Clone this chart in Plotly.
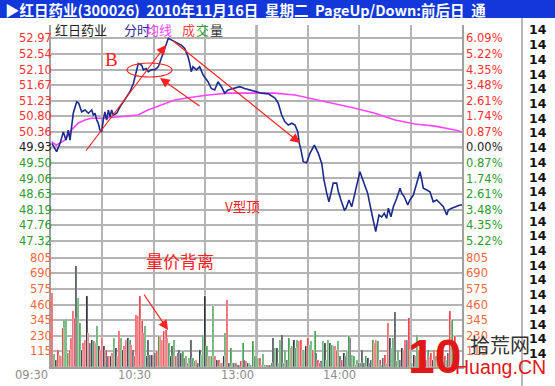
import plotly.graph_objects as go

# ---------------- data ----------------
prev_close = 49.93
price_tick_labels = ["52.97", "52.54", "52.10", "51.67", "51.23", "50.80", "50.36",
                     "49.93", "49.50", "49.06", "48.63", "48.19", "47.76", "47.32"]
pct_tick_labels = ["6.09%", "5.22%", "4.35%", "3.48%", "2.61%", "1.74%", "0.87%",
                   "0.00%", "0.87%", "1.74%", "2.61%", "3.48%", "4.35%", "5.22%"]
vol_tick_labels = ["805", "690", "575", "460", "345", "230", "115"]
time_labels = ["09:30", "10:30", "13:00", "14:00"]
time_label_minutes = [0, 60, 120, 180]

price_minutes = [0.5, 2.0, 3.3, 5.3, 7.2, 8.8, 10.1, 11.1, 13.0, 15.0, 16.2, 17.9, 19.9, 21.8,
                 23.8, 24.7, 25.7, 26.7, 27.6, 28.6, 29.6, 30.5, 31.5, 32.5, 33.5, 34.5, 35.4,
                 36.4, 38.4, 40.3, 42.2, 44.2, 46.1, 48.1, 50.0, 51.0, 53.0, 53.9, 55.5, 56.8,
                 58.8, 60.7, 62.7, 64.6, 66.6, 68.5, 70.5, 72.2, 76.1, 78.1, 80.0, 81.0, 81.9,
                 82.9, 84.9, 86.8, 88.8, 91.7, 93.6, 95.6, 97.5, 99.5, 101.4, 103.4, 107.3,
                 110.2, 113.1, 116.0, 119.0, 123.0, 126.9, 130.8, 132.7, 134.7, 136.6, 138.6,
                 140.6, 142.5, 144.1, 145.0, 146.0, 147.3, 149.3, 151.2, 153.8, 156.1, 158.1,
                 159.4, 161.0, 162.3, 163.9, 164.8, 166.8, 167.8, 169.3, 171.3, 172.3, 174.0,
                 175.6, 177.1, 178.5, 180.4, 181.8, 183.4, 184.9, 187.3, 188.8, 189.6, 190.6,
                 191.5, 193.1, 194.6, 196.0, 197.0, 198.5, 199.9, 201.9, 203.8, 204.8, 206.3,
                 208.3, 209.6, 211.6, 213.5, 215.5, 216.5, 217.4, 219.4, 221.3, 223.2, 225.2,
                 227.2, 229.1, 231.1, 232.0, 234.0, 235.9, 238.8, 240.0]
price_values = [50.04, 49.90, 49.81, 50.04, 50.36, 50.13, 50.41, 50.13, 50.88, 51.20, 51.16,
                50.92, 50.97, 50.88, 50.97, 50.83, 50.88, 50.69, 50.60, 50.41, 50.36, 50.69,
                50.92, 50.69, 50.97, 50.78, 50.97, 50.83, 50.88, 51.06, 51.20, 51.34, 51.48,
                51.71, 52.09, 52.27, 52.22, 52.09, 52.13, 52.04, 52.10, 52.09, 52.18, 52.46,
                52.69, 52.97, 52.92, 52.87, 52.78, 52.69, 52.46, 52.27, 52.04, 52.18, 52.09,
                52.18, 51.95, 51.76, 51.57, 51.53, 51.76, 51.62, 51.44, 51.53, 51.57, 51.62,
                51.57, 51.53, 51.48, 51.44, 51.42, 51.30, 51.16, 50.83, 50.64, 50.55, 50.60,
                50.55, 50.36, 50.04, 49.85, 49.53, 49.50, 49.76, 49.99, 49.76, 49.48, 49.02,
                48.65, 48.41, 48.74, 48.93, 48.93, 48.69, 48.46, 48.18, 48.23, 48.46, 48.27,
                48.55, 48.83, 49.25, 49.06, 48.83, 48.65, 48.09, 47.81, 47.58, 47.81, 48.04,
                47.99, 48.09, 47.95, 48.23, 47.99, 48.27, 48.51, 48.79, 48.65, 48.55, 48.32,
                48.46, 48.60, 48.93, 49.25, 49.02, 48.79, 48.74, 48.69, 48.41, 48.46, 48.37,
                48.27, 48.04, 48.18, 48.23, 48.27, 48.32, 48.32]

avg_minutes = [0.5, 3.0, 8.0, 11.9, 15.8, 19.7, 23.5, 29.4, 37.2, 50.8, 56.6, 64.4, 72.2,
               80.0, 91.7, 103.4, 120.9, 130.8, 142.5, 154.2, 165.8, 177.5, 189.2, 200.9,
               212.6, 224.2, 235.9, 240.0]
avg_values = [50.09, 49.99, 50.13, 50.41, 50.60, 50.69, 50.74, 50.74, 50.77, 50.83, 50.97,
              51.11, 51.25, 51.31, 51.39, 51.44, 51.44, 51.44, 51.39, 51.27, 51.16, 51.02,
              50.88, 50.69, 50.58, 50.52, 50.41, 50.36]

volume_values = [545, 98, 54, 128, 91, 79, 287, 344, 356, 103, 128, 214, 410, 361, 742, 509,
                 324, 128, 177, 201, 521, 251, 177, 201, 189, 177, 300, 152, 128, 214, 152, 128,
                 79, 79, 79, 103, 214, 140, 79, 263, 214, 128, 152, 201, 214, 201, 165, 128, 79,
                 386, 373, 521, 337, 251, 300, 79, 201, 91, 91, 91, 103, 115, 226, 226, 201, 263,
                 275, 214, 177, 79, 152, 201, 79, 103, 128, 103, 115, 66, 79, 29, 66, 201, 66,
                 42, 54, 29, 128, 91, 238, 521, 152, 79, 79, 79, 447, 79, 54, 54, 29, 29, 79,
                 251, 496, 29, 140, 29, 29, 29, 17, 17, 42, 177, 54, 42, 29, 29, 17, 189, 79, 79,
                 66,
                 66, 17, 98, 17, 17, 17, 17, 29, 214, 140, 140, 29, 201, 238, 29, 128, 54, 214,
                 140, 152, 201, 140, 201, 189, 201, 128, 115, 152, 214, 165, 189, 128, 263, 103,
                 54, 29, 42, 189, 177, 54, 201, 177, 165, 152, 152, 128, 189, 79, 54, 103, 79,
                 115, 226, 214, 91, 79, 17, 54, 29, 29, 128, 29, 79, 66, 29, 54, 201, 177, 201,
                 189, 54, 17, 66, 91, 29, 324, 214, 140, 214, 403, 42, 128, 54, 140, 128, 201,
                 201, 361, 128, 29, 91, 79, 238, 128, 79, 152, 103, 54, 128, 79, 103, 54, 128,
                 79, 54, 103, 79, 128, 79, 54, 103, 410, 344, 128, 226, 79, 54]
volume_colors = list("rgkrrrrggg" "rrrrkggkrr" "krkkgrgkrr" "krkrkrgkrr" "gkrrkgrkrr"
                     "rrrrgkkkkr" "krgrrrrrgk" "kgrkkkgkgr" "gkggrkkggk" "grgg" "grkrgrkgrk"
                     "ggkrkkrgkrkg" "ggkggrr" "g"
                     "gkrkgkgkggkggkgrgkggrrggkrggrgkrrkgkggkggrrgkrkkggkggrgkgkkgkkkgrrgrgkrgrk"
                     "ggkgg" "kkrrkrggkrgrr" "rkrgrrkrgrrkgrgkrg" "grkkgk")

# ---------------- geometry helpers (pixels -> paper) ----------------
PL, PR, PT, PB = 51, 462, 25, 367
SPLIT = 250  # pixel row separating price and volume panels


def fx(px):
    return (px - PL) / (PR - PL)


def fy(py):
    return (PB - py) / (PB - PT)


px_per_step = 15.57
price_step = 0.4343
price_top = prev_close + (147.3 - PT) / px_per_step * price_step
price_bot = prev_close - (SPLIT - 147.3) / px_per_step * price_step
vol_top = (PB - SPLIT) * 115 / 15.6

RED, GREEN, BLACK = "#ff3030", "#2f9a2f", "#222222"
ORANGE = "#f0683c"


def colored(txt, col):
    return '<span style="color:%s">%s</span>' % (col, txt)


price_ticks = [float(v) for v in price_tick_labels]
left_text = [colored(t, RED if float(t) > prev_close else (BLACK if float(t) == prev_close else GREEN))
             for t in price_tick_labels]
right_text = [colored(t, RED if i < 7 else (BLACK if i == 7 else GREEN)) for i, t in enumerate(pct_tick_labels)]
vol_ticks = [float(v) for v in vol_tick_labels]
vol_text = [colored(t, ORANGE) for t in vol_tick_labels]

colmap = {"r": "#ff2a2a", "g": "#2e9a2e", "k": "#1c1c1c"}
n = min(len(volume_values), len(volume_colors))
vol_x = [i + 1 for i in range(n)]

fig = go.Figure()
fig.add_trace(go.Bar(x=vol_x, y=volume_values[:n], marker_color=[colmap[c] for c in volume_colors[:n]],
                     marker_line_width=0, width=0.85, xaxis="x2", yaxis="y3", hoverinfo="skip"))
fig.add_trace(go.Bar(x=vol_x, y=volume_values[:n], marker_color="rgba(0,0,0,0)", width=0.8,
                     xaxis="x2", yaxis="y4", hoverinfo="skip"))
fig.add_trace(go.Scatter(x=avg_minutes, y=avg_values, mode="lines",
                         line=dict(color="#ff44ff", width=1.6), xaxis="x", yaxis="y"))
fig.add_trace(go.Scatter(x=price_minutes, y=price_values, mode="lines",
                         line=dict(color="#1c2a8c", width=1.6), xaxis="x", yaxis="y"))
fig.add_trace(go.Scatter(x=price_minutes, y=price_values, mode="lines",
                         line=dict(color="rgba(0,0,0,0)", width=0), xaxis="x", yaxis="y2",
                         hoverinfo="skip"))

d = fy(SPLIT)
grid = "#b4b4b4"
axfont = dict(family="DejaVu Sans", size=11.5, color="#222")
xcommon = dict(range=[0, 240], tickvals=list(range(0, 241, 30)), showticklabels=False,
               showgrid=True, gridcolor=grid, gridwidth=1.5, zeroline=False, ticks="")
fig.update_layout(
    width=555, height=386, autosize=False,
    margin=dict(l=PL, r=555 - PR, t=PT, b=386 - PB),
    paper_bgcolor="white", plot_bgcolor="white", showlegend=False, bargap=0,
    xaxis=dict(domain=[0, 1], anchor="y", showline=False, **xcommon),
    xaxis2=dict(domain=[0, 1], anchor="y3", showline=True, linecolor="#a0a0a0", linewidth=1.5, **xcommon),
    yaxis=dict(domain=[d, 1], anchor="x", range=[price_bot, price_top], tickvals=price_ticks,
               ticktext=left_text, showgrid=True, gridcolor=grid, gridwidth=1.5, zeroline=False,
               showline=True, linecolor="#a0a0a0", linewidth=1.5, ticks="", tickfont=axfont,
               ticklabelstandoff=-5),
    yaxis2=dict(overlaying="y", side="right", anchor="x", range=[price_bot, price_top],
                tickvals=price_ticks, ticktext=right_text, showgrid=False, zeroline=False,
                showline=True, linecolor="#a0a0a0", linewidth=1.5, ticks="", tickfont=axfont),
    yaxis3=dict(domain=[0, d], anchor="x2", range=[0, vol_top], tickvals=vol_ticks, ticktext=vol_text,
                showgrid=True, gridcolor=grid, gridwidth=1.5, zeroline=False, showline=True,
                linecolor="#a0a0a0", linewidth=1.5, ticks="", tickfont=axfont, ticklabelstandoff=-5),
    yaxis4=dict(overlaying="y3", side="right", anchor="x2", range=[0, vol_top], tickvals=vol_ticks,
                ticktext=vol_text, showgrid=False, zeroline=False, showline=True,
                linecolor="#a0a0a0", linewidth=1.5, ticks="", tickfont=axfont),
)

shapes = [
    # title bar
    dict(type="rect", xref="paper", yref="paper", x0=fx(0), x1=fx(555), y0=fy(18), y1=fy(0),
         fillcolor="#1238dc", line=dict(width=0), layer="above"),
    # previous-close line and midday line
    dict(type="line", xref="paper", yref="y", x0=0, x1=1, y0=prev_close, y1=prev_close,
         line=dict(color="#6a6a6a", width=2), layer="below"),
    dict(type="line", xref="x", yref="paper", x0=120, x1=120, y0=0, y1=1,
         line=dict(color="#7a7a7a", width=2), layer="below"),
    # right separator
    dict(type="line", xref="paper", yref="paper", x0=fx(522), x1=fx(522), y0=fy(386), y1=fy(18),
         line=dict(color="#a0a0a0", width=1.5)),
    # ellipse
    dict(type="circle", xref="paper", yref="paper", x0=fx(127), x1=fx(172), y0=fy(77), y1=fy(63),
         line=dict(color="#ff2020", width=1.2)),
]
fig.update_layout(shapes=shapes)

ann = []
cjk = "Noto Sans CJK SC"


def txt_ann(x, y, text, font, xanchor="center"):
    return dict(xref="paper", yref="paper", x=fx(x), y=fy(y), xanchor=xanchor, yanchor="middle",
                text=text, showarrow=False, font=font)


ann.append(txt_ann(3, 9.5, "<b>▶红日药业(300026)  2010年11月16日  星期二  PageUp/Down:前后日  通</b>",
                   dict(family=cjk, size=14.5, color="white"), "left"))
# legend-like header text
for t, col, x0 in [("红日药业", "#222222", 53), ("分时", "#2a2a9a", 122), ("均线", "#ff44ff", 144),
                   ("成", "#ff4040", 180), ("交", "#2e9a2e", 194), ("量", "#333333", 208)]:
    ann.append(txt_ann(x0, 30, t, dict(family=cjk, size=13, color=col), "left"))
# time labels (right aligned at grid lines)
for lab, m in zip(time_labels, time_label_minutes):
    ann.append(dict(xref="x2", yref="paper", x=m, y=fy(375), xanchor="right", yanchor="middle",
                    xshift=-1, text=lab, showarrow=False,
                    font=dict(family="DejaVu Sans", size=11.5, color="#8c8c8c")))
# right column of "14"
for i in range(23):
    ann.append(txt_ann(538, 30 + i * 14.7, "<b>14</b>", dict(family="DejaVu Sans", size=12.5, color="#111")))
# text annotations
ann.append(txt_ann(111.5, 59, "B", dict(family="Liberation Serif", size=19, color="#ff2020")))
ann.append(txt_ann(242, 206, "V型顶", dict(family=cjk, size=13.5, color="#ff2020")))
ann.append(txt_ann(180, 260, "量价背离", dict(family=cjk, size=17, color="#ff2020")))
# arrows (head, tail) in pixels
for (hx, hy, tx, ty) in [(166, 45, 85, 152), (160, 78, 201, 107), (300, 143, 172, 40), (168, 330, 143, 293)]:
    ann.append(dict(xref="paper", yref="paper", x=fx(hx), y=fy(hy), ax=tx - hx, ay=ty - hy,
                    axref="pixel", ayref="pixel", text="", showarrow=True, arrowhead=2,
                    arrowsize=1.6, arrowwidth=1.2, arrowcolor="#ff2020"))
# watermark
ann.append(txt_ann(434, 356, "<b>10</b>", dict(family="Liberation Sans Narrow, Liberation Sans", size=48,
                                                color="#e01818")))
ann.append(txt_ann(500, 344, "拾荒网", dict(family=cjk, size=20, color="#333333")))
ann.append(txt_ann(500, 367, "Huang.CN", dict(family="Liberation Sans", size=19.5, color="#e01818")))
fig.update_layout(annotations=ann)

fig.write_html("out.html", config={"displayModeBar": False},
               post_script="document.body.style.margin='0';document.body.style.overflow='hidden';")
